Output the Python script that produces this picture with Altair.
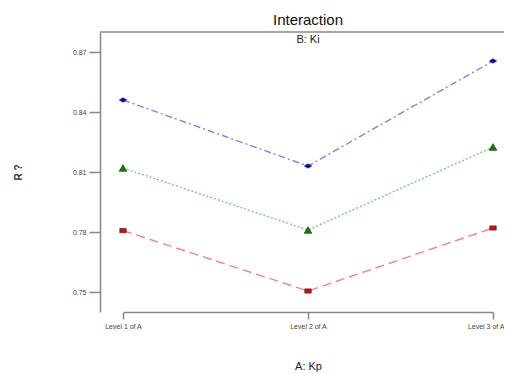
import altair as alt
import pandas as pd

levels_a = ["Level 1 of A", "Level 2 of A", "Level 3 of A"]
series = ["Level 1 of B", "Level 2 of B", "Level 3 of B"]
r2_b1 = [0.7807, 0.7505, 0.7820]
r2_b2 = [0.8120, 0.7810, 0.8225]
r2_b3 = [0.8460, 0.8130, 0.8655]

rows = []
for s, vals in zip(series, [r2_b1, r2_b2, r2_b3]):
    for a, v in zip(levels_a, vals):
        rows.append({"A": a, "B": s, "R2": v})
df = pd.DataFrame(rows)

W, H = 404, 280
FONT = "Liberation Sans"
last = levels_a[-1]

xs = alt.X("A:N", sort=levels_a,
           scale=alt.Scale(type="point", range=[23, 393], padding=0),
           axis=alt.Axis(title="A: Kp", labelAngle=0, labelFontSize=7, labelColor="#444",
                         labelAlign=alt.expr(f"datum.value == '{last}' ? 'right' : 'center'"),
                         labelOffset=alt.expr(f"datum.value == '{last}' ? 11 : 0"),
                         tickSize=7, tickColor="#888", domainColor="#888", domainWidth=1.5,
                         tickWidth=1.5, labelPadding=3, titleFontSize=11, titleFontWeight="normal",
                         titlePadding=31, titleColor="#222", labelFont=FONT, titleFont=FONT,
                         titleX=208))
ys = alt.Y("R2:Q", scale=alt.Scale(domain=[0.74, 0.88], nice=False, zero=False),
           axis=alt.Axis(title="R ?", values=[0.75, 0.78, 0.81, 0.84, 0.87], format=".2f",
                         labelFontSize=7, labelColor="#444", tickSize=11, tickColor="#888",
                         tickWidth=1.5, domainColor="#888", domainWidth=1.5, grid=False,
                         labelPadding=3, titleFontSize=10, titleFontWeight="bold",
                         titlePadding=49, titleColor="#333", labelFont=FONT, titleFont=FONT))

line_colors = ["#ff8080", "#70d870", "#8080ff"]
mark_colors = ["#ee0000", "#008800", "#0000ee"]
dashes = [[9, 5], [2, 2], [7, 3, 2, 3]]
shapes = ["M-1,-0.65L1,-0.65L1,0.65L-1,0.65Z", "triangle-up", "M-1,0L0,-0.6L1,0L0,0.6Z"]
sizes = [42, 60, 55]

layers = []
top = alt.Chart(pd.DataFrame({"k": [0]})).mark_rule(color="#888", strokeWidth=1.5).encode(
    y=alt.value(0), x=alt.value(0), x2=alt.value(W))
layers.append(top)
for i, s in enumerate(series):
    d = df[df.B == s]
    layers.append(alt.Chart(d).mark_line(color=line_colors[i], strokeDash=dashes[i],
                                         strokeWidth=1.4).encode(x=xs, y=ys))
for i, s in enumerate(series):
    d = df[df.B == s]
    layers.append(alt.Chart(d).mark_point(shape=shapes[i], filled=True, color=mark_colors[i],
                                          size=sizes[i], stroke="#222", strokeWidth=0.6,
                                          opacity=1).encode(x=xs, y=ys))

sub = alt.Chart(pd.DataFrame({"t": ["B: Ki"]})).mark_text(
    fontSize=11, font=FONT, color="#222").encode(
    text="t:N", x=alt.value(208), y=alt.value(8))
layers.append(sub)

chart = alt.layer(*layers).properties(
    width=W, height=H,
    title=alt.TitleParams("Interaction", fontSize=15, fontWeight="normal", font=FONT,
                          color="#111", anchor="middle", frame="group", offset=3, dx=6),
    autosize=alt.AutoSizeParams(type="none"),
    padding={"left": 92, "top": 24, "right": 0, "bottom": 62},
).configure_view(stroke=None)

chart.save("out.html", embed_options={"renderer": "svg", "actions": False})
